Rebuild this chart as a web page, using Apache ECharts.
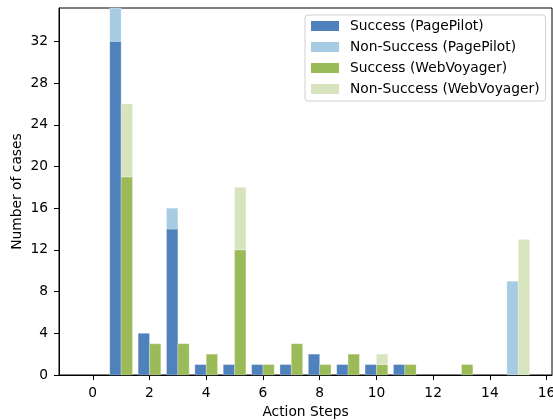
<!DOCTYPE html>
<html>
<head>
<meta charset="utf-8">
<script src="https://cdn.jsdelivr.net/npm/echarts@6/dist/echarts.min.js"></script>
<style>
html,body{margin:0;padding:0;background:#fff;}
#chart{width:553px;height:420px;}
</style>
</head>
<body>
<div id="chart"></div>
<script>
// ---- data ----
const steps = [0, 1, 2, 3, 4, 5, 6, 7, 8, 9, 10, 11, 12, 13, 14, 15];
const ppSuccess    = [0, 32, 4, 14, 1, 1, 1, 1, 2, 1, 1, 1, 0, 0, 0, 0];
const ppNonSuccess = [0, 4, 0, 2, 0, 0, 0, 0, 0, 0, 0, 0, 0, 0, 0, 9];
const wvSuccess    = [0, 19, 3, 3, 2, 12, 1, 3, 1, 2, 1, 1, 0, 1, 0, 0];
const wvNonSuccess = [0, 7, 0, 0, 0, 6, 0, 0, 0, 0, 1, 0, 0, 0, 0, 13];
const seriesNames = ['Success (PagePilot)', 'Non-Success (PagePilot)', 'Success (WebVoyager)', 'Non-Success (WebVoyager)'];
const xTicks = [0, 2, 4, 6, 8, 10, 12, 14, 16];
const yTicks = [0, 4, 8, 12, 16, 20, 24, 28, 32];

const FONT = 'DejaVu Sans';
const FS = 13.8;
const BAR_W = 0.4;

function makeSeries(name, base, vals, offset, color) {
  const data = steps.map((s, i) => [s, base[i], base[i] + vals[i]]);
  return {
    type: 'custom',
    name: name,
    data: data,
    encode: { x: 0, y: [1, 2] },
    itemStyle: { color: color },
    renderItem: function (params, api) {
      const x = api.value(0) + offset;
      const y0 = api.value(1), y1 = api.value(2);
      if (!(y1 > y0)) return null;
      const p0 = api.coord([x - BAR_W / 2, y1]);
      const p1 = api.coord([x + BAR_W / 2, y0]);
      const cs = params.coordSys;
      const rect = echarts.graphic.clipRectByRect(
        { x: p0[0], y: p0[1], width: p1[0] - p0[0], height: p1[1] - p0[1] },
        { x: cs.x, y: cs.y, width: cs.width, height: cs.height }
      );
      if (!rect) return null;
      return { type: 'rect', shape: rect, style: { fill: api.visual('color'), stroke: 'rgba(255,255,255,0.5)', lineWidth: 0.5 } };
    }
  };
}

const zeros = steps.map(() => 0);
const chart = echarts.init(document.getElementById('chart'), null, { renderer: 'canvas' });
chart.setOption({
  animation: false,
  backgroundColor: '#fff',
  textStyle: { fontFamily: FONT },
  grid: { left: 59, top: 8, right: 1, bottom: 45, outerBoundsMode: 'none', containLabel: false, show: true, borderColor: '#000', borderWidth: 1, backgroundColor: 'transparent' },
  legend: {
    orient: 'vertical',
    left: 305, top: 15,
    data: seriesNames,
    icon: 'rect',
    itemWidth: 28, itemHeight: 10, itemGap: 7,
    padding: [4, 6, 5, 6],
    backgroundColor: 'rgba(255,255,255,0.8)',
    borderColor: '#d0d0d0', borderWidth: 1, borderRadius: 3,
    textStyle: { fontFamily: FONT, fontSize: FS, color: '#000', lineHeight: 13, padding: [0, 0, 0, 6] }
  },
  xAxis: {
    type: 'value', min: -1.19, max: 16.19,
    name: 'Action Steps', nameLocation: 'middle', nameGap: 30, nameMoveOverlap: false,
    nameTextStyle: { fontFamily: FONT, fontSize: FS, color: '#000' },
    splitLine: { show: false },
    axisLine: { show: true, onZero: false, lineStyle: { color: '#000', width: 1 } },
    axisTick: { show: true, length: 5, lineStyle: { color: '#000' }, customValues: xTicks },
    axisLabel: { fontFamily: FONT, fontSize: FS, color: '#000', margin: 11, customValues: xTicks }
  },
  yAxis: {
    type: 'value', min: 0, max: 35.2,
    name: 'Number of cases', nameLocation: 'middle', nameGap: 35, nameRotate: 90, nameMoveOverlap: false,
    nameTextStyle: { fontFamily: FONT, fontSize: FS, color: '#000' },
    splitLine: { show: false },
    axisLine: { show: true, onZero: false, lineStyle: { color: '#000', width: 1 } },
    axisTick: { show: true, length: 5, lineStyle: { color: '#000' }, customValues: yTicks },
    axisLabel: { fontFamily: FONT, fontSize: FS, color: '#000', margin: 11, customValues: yTicks }
  },
  series: [
    makeSeries(seriesNames[0], zeros, ppSuccess, -0.2, '#4F81BD'),
    makeSeries(seriesNames[1], ppSuccess, ppNonSuccess, -0.2, '#A6CBE3'),
    makeSeries(seriesNames[2], zeros, wvSuccess, 0.2, '#9BBB59'),
    makeSeries(seriesNames[3], wvSuccess, wvNonSuccess, 0.2, '#D7E4BD')
  ]
});
</script>
</body>
</html>
